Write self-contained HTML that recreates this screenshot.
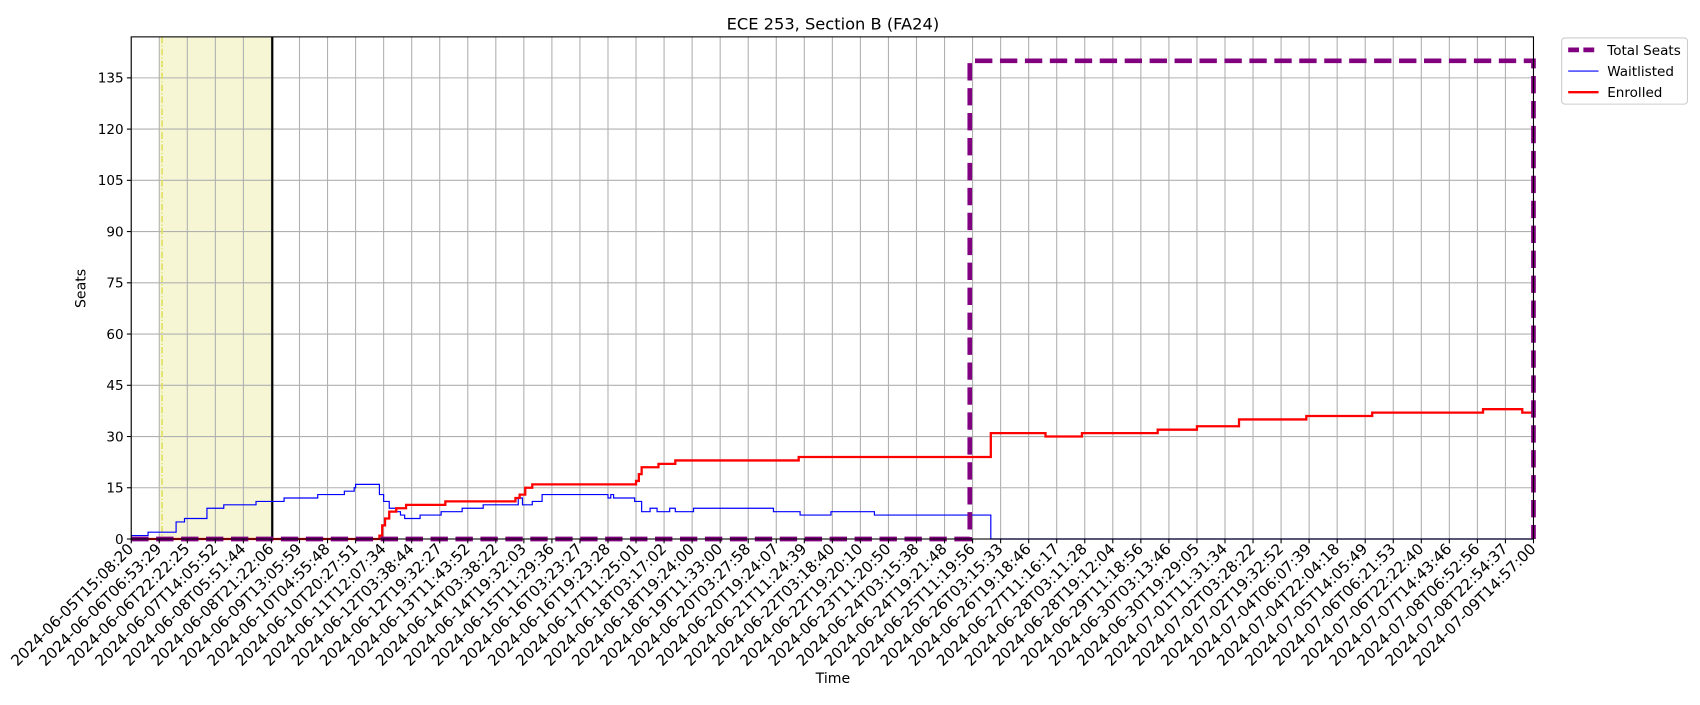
<!DOCTYPE html>
<html><head><meta charset="utf-8"><style>body{margin:0;background:#fff;overflow:hidden}svg{font-family:"DejaVu Sans","Liberation Sans",sans-serif}</style></head>
<body>
<svg width="1700" height="700" xmlns="http://www.w3.org/2000/svg"><g id="c" transform="scale(1.0845)"></g></svg>
<script>
const tickLabels=["2024-06-05T15:08:20","2024-06-06T06:53:29","2024-06-06T22:22:25","2024-06-07T14:05:52","2024-06-08T05:51:44","2024-06-08T21:22:06","2024-06-09T13:05:59","2024-06-10T04:55:48","2024-06-10T20:27:51","2024-06-11T12:07:34","2024-06-12T03:38:44","2024-06-12T19:32:27","2024-06-13T11:43:52","2024-06-14T03:38:22","2024-06-14T19:32:03","2024-06-15T11:29:36","2024-06-16T03:23:27","2024-06-16T19:23:28","2024-06-17T11:25:01","2024-06-18T03:17:02","2024-06-18T19:24:00","2024-06-19T11:33:00","2024-06-20T03:27:58","2024-06-20T19:24:07","2024-06-21T11:24:39","2024-06-22T03:18:40","2024-06-22T19:20:10","2024-06-23T11:20:50","2024-06-24T03:15:38","2024-06-24T19:21:48","2024-06-25T11:19:56","2024-06-26T03:15:33","2024-06-26T19:18:46","2024-06-27T11:16:17","2024-06-28T03:11:28","2024-06-28T19:12:04","2024-06-29T11:18:56","2024-06-30T03:13:46","2024-06-30T19:29:05","2024-07-01T11:31:34","2024-07-02T03:28:22","2024-07-02T19:32:52","2024-07-04T06:07:39","2024-07-04T22:04:18","2024-07-05T14:05:49","2024-07-06T06:21:53","2024-07-06T22:22:40","2024-07-07T14:43:46","2024-07-08T06:52:56","2024-07-08T22:54:37","2024-07-09T14:57:00"];
const yTicks=[0,15,30,45,60,75,90,105,120,135];
const waitT=[0,0.6,1.6,1.9,2.7,3.3,4.45,5.45,6.65,7.6,7.95,8.0,8.85,9.0,9.2,9.45,9.6,9.75,10.3,11.05,11.8,12.55,13.8,13.95,14.3,14.65,17.0,17.1,17.2,17.95,18.2,18.5,18.75,19.2,19.4,20.05,22.9,23.85,24.95,26.5,30.65,50];
const waitV=[1,2,5,6,9,10,11,12,13,14,15,16,13,11,9,8,7,6,7,8,9,10,12,10,11,13,12,13,12,11,8,9,8,9,8,9,8,7,8,7,0,0];
const enrT=[0,8.85,8.95,9.05,9.2,9.45,9.6,9.8,11.2,13.7,13.85,14.05,14.3,18.0,18.1,18.2,18.8,19.4,23.8,30.65,32.6,33.9,36.6,38.0,39.5,41.9,44.25,48.2,49.6,50];
const enrV=[0,1,4,6,8,9,9,10,11,12,13,15,16,17,19,21,22,23,24,31,30,31,32,33,35,36,37,38,37,37];
const seatT=[0,29.9,50,50];
const seatV=[0,140,140,0];
const L=121,R=1414,T=34,B=497,YMAX=147;
const sx=i=>L+(R-L)*i/50, sy=v=>B-(B-T)*v/YMAX;
const svg=document.getElementById('c');const NS="http://www.w3.org/2000/svg";
function el(t,a,p){const e=document.createElementNS(NS,t);for(const k in a)e.setAttribute(k,a[k]);(p||svg).appendChild(e);return e;}
let e;
e=el('rect',{x:sx(1),y:T,width:sx(5.03)-sx(1),height:B-T,fill:'#f5f5d0',opacity:0.9});

const g=el('g',{});
tickLabels.forEach((t,i)=>{el('line',{x1:sx(i),x2:sx(i),y1:T,y2:B,stroke:'#b0b0b0','stroke-width':1},g);});
yTicks.forEach(v=>{el('line',{x1:L,x2:R,y1:sy(v),y2:sy(v),stroke:'#b0b0b0','stroke-width':1},g);});
e=el('line',{x1:sx(1.1),x2:sx(1.1),y1:T,y2:B,stroke:'#e0e060','stroke-width':1.5,'stroke-dasharray':'6,2,1,2'});

e=el('line',{x1:sx(5.03),x2:sx(5.03),y1:T,y2:B,stroke:'#000','stroke-width':2});

function step(ts,vs){let d='';for(let i=0;i<ts.length;i++){const x=sx(ts[i]),y=sy(vs[i]);if(i==0)d+='M'+x+','+y;else d+='H'+x+'V'+y;}return d;}
e=el('path',{d:step(waitT,waitV),fill:'none',stroke:'#0000ff','stroke-width':1.1});

e=el('path',{d:step(enrT,enrV),fill:'none',stroke:'#ff0000','stroke-width':2.1});

e=el('path',{d:step(seatT,seatV),fill:'none',stroke:'#800080','stroke-width':4.3,'stroke-dasharray':'16,7'});

e=el('rect',{x:L,y:T,width:R-L,height:B-T,fill:'none',stroke:'#000','stroke-width':1});

const xa=el('g',{});
tickLabels.forEach((t,i)=>{const x=sx(i);el('line',{x1:x,x2:x,y1:B,y2:B+4,stroke:'#000'},xa);
const tx=el('text',{x:x+3,y:B+10,'font-size':14,'text-anchor':'end',transform:`rotate(-45 ${x+3} ${B+10})`},xa);tx.textContent=t;});
const ya=el('g',{});
yTicks.forEach(v=>{const y=sy(v);el('line',{x1:L-4,x2:L,y1:y,y2:y,stroke:'#000'},ya);
const tx=el('text',{x:L-7,y:y+4.5,'font-size':12.5,'text-anchor':'end'},ya);tx.textContent=v;});
e=el('text',{x:768,y:27,'font-size':15,'text-anchor':'middle'});e.textContent='ECE 253, Section B (FA24)';

e=el('text',{x:768,y:630,'font-size':13,'text-anchor':'middle'});e.textContent='Time';

e=el('text',{x:79,y:266,'font-size':13,'text-anchor':'middle',transform:'rotate(-90 79 266)'});e.textContent='Seats';

const lg=el('g',{});
el('rect',{x:1440,y:35,width:116,height:61,rx:3,fill:'#fff',stroke:'#ccc'},lg);
[['Total Seats','#800080',4.3,'10,4'],['Waitlisted','#0000ff',1.1,''],['Enrolled','#ff0000',2.1,'']].forEach((it,i)=>{
const y=46+i*19.5;const li=el('g',{},lg);
el('line',{x1:1446,x2:1474,y1:y,y2:y,stroke:it[1],'stroke-width':it[2],'stroke-dasharray':it[3]},li);
const tx=el('text',{x:1482,y:y+4.5,'font-size':12.5},li);tx.textContent=it[0];});
</script>
</body></html>
